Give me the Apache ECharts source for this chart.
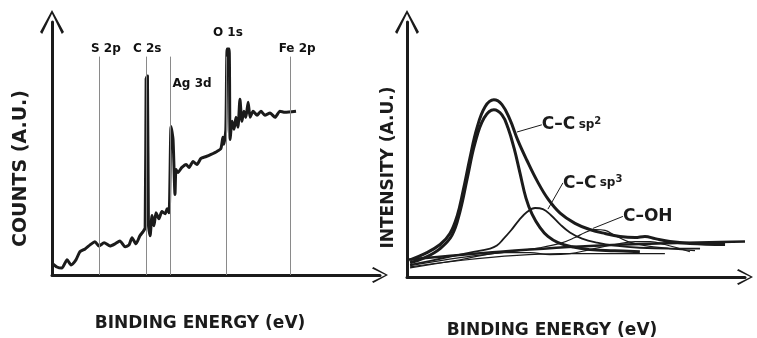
<!DOCTYPE html>
<html>
<head>
<meta charset="utf-8">
<script src="https://cdn.jsdelivr.net/npm/echarts@6/dist/echarts.min.js"></script>
<style>
  html, body { margin: 0; padding: 0; background: #fff; }
  #chart { width: 757px; height: 338px; }
</style>
</head>
<body>
<div id="chart"></div>
<script>
// ---- Survey spectrum (normalised energy / counts) ----
const surveyEnergy = [0, 1.5, 3.0, 4.6, 5.8, 7.3, 8.5, 10.1, 11.6, 13.1, 14.3, 15.9, 17.7, 19.2, 20.7, 22.3, 23.5, 24.4, 25.6, 26.8, 27.7, 28.4, 28.7, 29.1, 29.4, 29.9, 30.5, 31.1, 31.7, 32.6, 33.5, 34.5, 35.1, 35.7, 36.3, 36.9, 37.5, 37.8, 38.4, 39.6, 40.9, 41.8, 43.0, 44.2, 45.4, 47.0, 48.5, 50.3, 51.5, 52.1, 52.4, 53.0, 53.4, 54.0, 54.3, 54.9, 55.5, 56.1, 56.7, 57.3, 57.9, 58.5, 59.1, 59.8, 60.4, 61.3, 62.5, 63.7, 64.9, 66.5, 68.0, 69.5, 71.0, 74.4];
const surveyCounts = [4.5, 3.0, 2.6, 5.7, 3.8, 5.7, 8.7, 9.8, 11.3, 12.5, 10.9, 12.1, 10.9, 11.7, 12.8, 10.6, 11.3, 14.0, 11.7, 14.7, 16.2, 17.7, 73.6, 74.7, 18.9, 14.7, 22.3, 18.5, 23.4, 21.1, 23.8, 23.0, 24.9, 23.4, 55.8, 50.9, 30.2, 39.6, 38.5, 40.4, 41.5, 40.4, 42.6, 41.5, 43.8, 44.5, 45.3, 46.4, 47.5, 51.7, 49.1, 54.7, 84.9, 84.9, 50.9, 57.7, 54.7, 59.2, 55.5, 66.0, 57.7, 61.5, 59.2, 64.9, 59.2, 61.5, 60.0, 61.5, 60.0, 60.8, 59.2, 61.5, 61.1, 61.5];

// Core-level reference lines
const peakNames = ['S 2p', 'C 2s', 'Ag 3d', 'O 1s', 'Fe 2p'];
const peakEnergy = [14.3, 28.7, 36.0, 53.0, 72.6];
const peakLineTop = 82;

// ---- C 1s high-resolution fit ----
const envelopeX = [0.9, 5.3, 9.8, 12.7, 14.8, 16.6, 18.6, 20.7, 23.1, 25.7, 28.1, 30.5, 32.8, 35.5, 38.5, 41.7, 45.3, 49.7, 54.1, 58.6, 63.0, 67.5, 70.4, 73.4, 77.8, 83.7, 94.1];
const envelopeY = [6.4, 8.7, 12.1, 16.2, 22.6, 32.1, 44.2, 55.5, 63.4, 66.0, 64.2, 58.5, 50.9, 43.4, 35.8, 29.1, 23.8, 20.0, 17.7, 16.2, 15.1, 14.7, 15.1, 14.3, 13.2, 12.5, 12.1];

const sp2X = [0.9, 5.3, 9.8, 13.3, 15.7, 17.8, 20.1, 22.8, 25.7, 28.1, 29.9, 31.7, 33.4, 35.2, 37.0, 39.3, 41.7, 44.7, 48.8, 54.1, 61.5, 68.9];
const sp2Y = [5.3, 7.2, 10.6, 15.5, 24.5, 36.6, 49.8, 59.2, 62.3, 60.4, 55.5, 47.9, 38.9, 29.4, 23.4, 18.5, 15.1, 12.8, 11.3, 10.2, 9.8, 9.4];

const sp3X = [0.9, 9.8, 18.6, 24.6, 26.6, 28.4, 30.8, 33.1, 35.5, 37.9, 40.2, 42.6, 45.3, 48.2, 51.8, 56.2, 61.5, 68.9, 77.8, 86.7];
const sp3Y = [4.5, 6.8, 9.1, 10.6, 11.7, 14.0, 17.4, 21.1, 24.2, 25.7, 25.3, 23.0, 19.6, 16.6, 14.3, 12.8, 11.7, 10.9, 10.6, 10.6];

const cohX = [0.9, 15.7, 30.5, 39.3, 45.3, 49.7, 52.7, 55.6, 58.6, 61.5, 65.4, 70.4, 77.8, 85.2];
const cohY = [4.2, 7.2, 9.4, 10.9, 12.5, 14.7, 16.6, 17.7, 17.4, 15.5, 13.2, 11.7, 10.6, 9.8];

const coX = [0.9, 15.7, 29.0, 36.4, 42.3, 48.2, 54.1, 61.5, 67.5, 71.9, 76.3, 83.7];
const coY = [3.4, 6.4, 9.1, 9.1, 8.3, 8.7, 10.2, 12.1, 13.2, 13.2, 12.1, 9.4];

const backgroundX = [0, 27.5, 57.1, 100];
const backgroundY = [6.4, 9.4, 11.7, 13.2];
const lowerBackgroundX = [0.9, 45.3, 76.3];
const lowerBackgroundY = [3.8, 8.7, 8.7];

// Component annotations
const componentNames = ['C–C sp2', 'C–C sp3', 'C–OH'];
const annotationX = [32.5, 41.7, 55.0];
const annotationY = [54.0, 25.3, 18.1];

const zip = (xs, ys) => xs.map((x, i) => [x, ys[i]]);

const INK = '#1b1b1b';
const FONT = '"DejaVu Sans", sans-serif';

// Hand-drawn style open chevron, pointing up in its own frame
const chevron = 'path://M50 0 L100 92 L91 100 L50 16 L9 100 L0 92 Z';

function axisPair(gridIndex, xName, yName, xPad, yPad, xGap, yGap, ySize) {
  const common = {
    gridIndex,
    min: 0,
    axisTick: { show: false },
    axisLabel: { show: false },
    splitLine: { show: false },
    nameLocation: 'middle',
    nameTextStyle: { fontFamily: FONT, fontWeight: 'bold', fontSize: 17, color: INK }
  };
  return {
    x: Object.assign({}, common, {
      type: 'value', max: 100, name: xName, nameGap: xGap,
      nameTextStyle: Object.assign({}, common.nameTextStyle, { padding: xPad }),
      axisLine: { show: true, lineStyle: { color: INK, width: 3 },
        symbol: ['none', chevron], symbolSize: [24, 16], symbolOffset: [0, 0] }
    }),
    y: Object.assign({}, common, {
      type: 'value', max: 95, name: yName, nameGap: yGap, nameRotate: 90,
      nameTextStyle: Object.assign({}, common.nameTextStyle, { padding: yPad, fontSize: ySize }),
      axisLine: { show: true, lineStyle: { color: INK, width: 3 },
        symbol: ['none', chevron], symbolSize: [26, 24], symbolOffset: [0, 0] }
    })
  };
}

const leftAxes = axisPair(0, 'BINDING ENERGY (eV)', 'COUNTS (A.U.)', [0, 32, 0, 0], [0, 40, 0, 0], 40, 21, 19);
const rightAxes = axisPair(1, 'BINDING ENERGY (eV)', 'INTENSITY (A.U.)', [0, 48, 0, 0], [0, 36, 0, 0], 45, 10, 17);

const peakLabelOffsets = [[7, 0], [1, 0], [22, 35], [2, -16], [7, 0]];

function curve(xs, ys, width, smooth) {
  return {
    type: 'line', xAxisIndex: 1, yAxisIndex: 1,
    data: zip(xs, ys), showSymbol: false, smooth: smooth,
    lineStyle: { color: INK, width: width }, silent: true, z: 3
  };
}

const option = {
  animation: false,
  backgroundColor: '#ffffff',
  grid: [
    { left: 52, top: 22, width: 328, height: 253, containLabel: false, outerBoundsMode: 'none' },
    { left: 407, top: 22, width: 338, height: 255, containLabel: false, outerBoundsMode: 'none' }
  ],
  xAxis: [leftAxes.x, rightAxes.x],
  yAxis: [leftAxes.y, rightAxes.y],
  series: [
    {
      type: 'line', xAxisIndex: 0, yAxisIndex: 0,
      data: zip(surveyEnergy, surveyCounts),
      showSymbol: false, smooth: 0.2,
      lineStyle: { color: INK, width: 3, join: 'round' },
      silent: true, z: 4,
      markLine: {
        silent: true, symbol: 'none', label: { show: false },
        lineStyle: { color: '#8a8a8a', width: 1, type: 'solid' },
        data: peakEnergy.map(e => [{ coord: [e, 0] }, { coord: [e, peakLineTop] }])
      }
    },
    {
      type: 'scatter', xAxisIndex: 0, yAxisIndex: 0, symbolSize: 0, silent: true, z: 6,
      itemStyle: { opacity: 1 },
      data: peakNames.map((n, i) => ({
        name: n, value: [peakEnergy[i], peakLineTop],
        label: { offset: peakLabelOffsets[i] }
      })),
      label: {
        show: true, position: 'top', distance: 2, opacity: 1,
        formatter: p => p.name,
        fontFamily: FONT, fontWeight: 'bold', fontSize: 12, color: '#111111'
      }
    },
    curve(backgroundX, backgroundY, 2.5, 0.3),
    curve(lowerBackgroundX, lowerBackgroundY, 1.2, 0.4),
    curve(coX, coY, 1.2, 0.4),
    curve(cohX, cohY, 1.2, 0.4),
    curve(sp3X, sp3Y, 1.8, 0.4),
    curve(sp2X, sp2Y, 3, 0.4),
    curve(envelopeX, envelopeY, 3, 0.4),
    {
      type: 'scatter', xAxisIndex: 1, yAxisIndex: 1, symbolSize: 0, silent: true, z: 5,
      itemStyle: { opacity: 1 },
      data: componentNames.map((n, i) => ({ name: n, value: [annotationX[i], annotationY[i]] })),
      label: {
        show: true, position: 'right', distance: 0, opacity: 1,
        formatter: p => {
          const m = p.name.match(/^(.*) sp(\d)$/);
          return m ? '{main|' + m[1] + '} {sp|sp}{sup|' + m[2] + '}' : '{main|' + p.name + '}';
        },
        rich: {
          main: { fontFamily: FONT, fontWeight: 'bold', fontSize: 17, color: INK },
          sp: { fontFamily: FONT, fontWeight: 'bold', fontSize: 12, color: INK },
          sup: { fontFamily: FONT, fontWeight: 'bold', fontSize: 10, color: INK, verticalAlign: 'top', padding: [0, 0, 8, 0] }
        }
      },
      labelLayout: function (params) {
        const shifts = [[25, -7], [15, -26], [30, -12]];
        const s = shifts[params.dataIndex];
        return { dx: s[0], dy: s[1] };
      },
      labelLine: { show: true, lineStyle: { color: INK, width: 1 } }
    }
  ]
};

const chart = echarts.init(document.getElementById('chart'), null, { renderer: 'canvas' });
chart.setOption(option);
</script>
</body>
</html>
